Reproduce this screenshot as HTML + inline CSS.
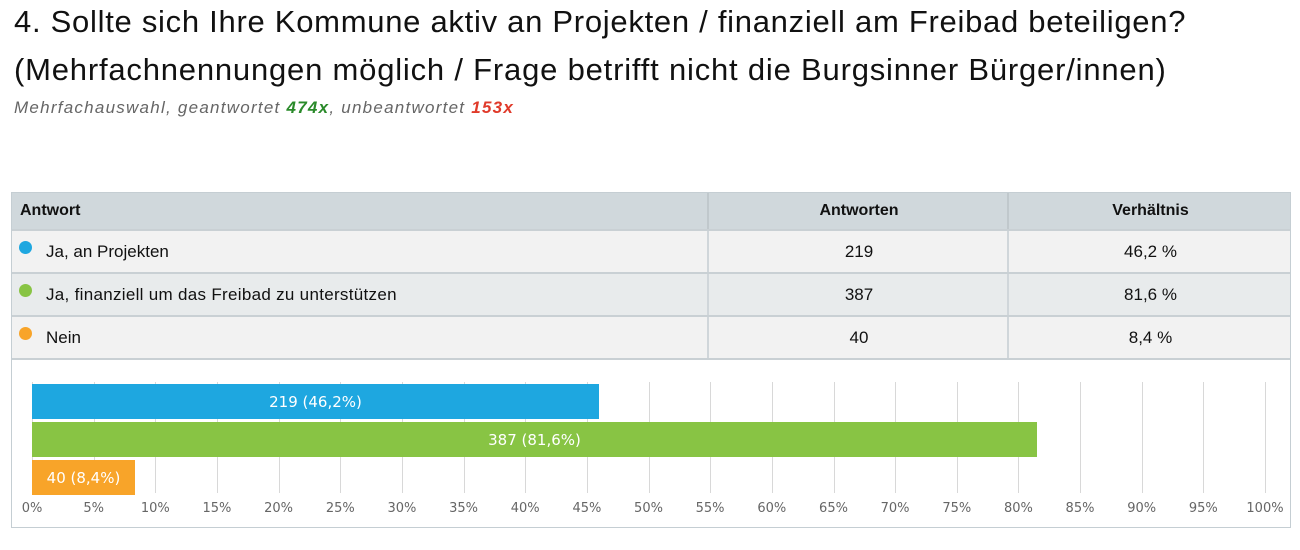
<!DOCTYPE html>
<html><head><meta charset="utf-8"><style>
body{margin:0;width:1300px;height:550px;background:#fff;font-family:"Liberation Sans",sans-serif;position:relative;overflow:hidden}
.t{position:absolute;left:14px;font-size:31px;color:#111;white-space:nowrap;letter-spacing:0.72px}
.s{position:absolute;left:14px;top:98px;font-size:17px;font-style:italic;color:#666;letter-spacing:1.25px}
.box{position:absolute;left:11px;top:192px;width:1280px;height:336px;border:1px solid #c5ced3;box-sizing:border-box}
.row{position:absolute;left:0;width:1278px;border-bottom:2px solid #c9d0d4;box-sizing:border-box;font-size:17px;color:#111}
.c{position:absolute;top:0;bottom:0;display:flex;align-items:center}
.dot{display:inline-block;width:13px;height:13px;border-radius:50%;margin:0 14px 0 7px;position:relative;top:-4px}
.ax{position:absolute;font-family:"DejaVu Sans",sans-serif;font-size:13px;color:#666;top:501px;transform:translateX(-50%)}
.g{position:absolute;top:382px;height:111px;width:1px;background:#d8d8d8}
.bar{position:absolute;left:32px;height:35px;color:#fff;font-family:"DejaVu Sans",sans-serif;font-size:15px;display:flex;align-items:center;justify-content:center}
</style></head><body>
<div class="t" style="top:4px">4. Sollte sich Ihre Kommune aktiv an Projekten / finanziell am Freibad beteiligen?</div>
<div class="t" style="top:52px;letter-spacing:0.8px">(Mehrfachnennungen möglich / Frage betrifft nicht die Burgsinner Bürger/innen)</div>
<div class="s">Mehrfachauswahl, geantwortet <b style="color:#2a8a2a">474x</b>, unbeantwortet <b style="color:#e03a2a">153x</b></div>
<div class="box">
<div class="row" style="top:0;height:38px;background:#d0d8dc;font-weight:bold;font-size:16px">
<div class="c" style="left:8px">Antwort</div>
<div class="c" style="left:695px;width:300px;justify-content:center;border-left:2px solid #c0c8cc">Antworten</div>
<div class="c" style="left:995px;width:283px;justify-content:center;border-left:2px solid #c0c8cc">Verhältnis</div></div>
<div class="row" style="top:38px;height:43px;background:#f2f2f2">
<div class="c" style="left:0"><span class="dot" style="background:#1ea7e0"></span>Ja, an Projekten</div>
<div class="c" style="left:695px;width:300px;justify-content:center;border-left:2px solid #d0d6da">219</div>
<div class="c" style="left:995px;width:283px;justify-content:center;border-left:2px solid #d0d6da">46,2 %</div></div>
<div class="row" style="top:81px;height:43px;background:#e8ebec">
<div class="c" style="left:0"><span class="dot" style="background:#88c444"></span><span style="letter-spacing:0.3px">Ja, finanziell um das Freibad zu unterstützen</span></div>
<div class="c" style="left:695px;width:300px;justify-content:center;border-left:2px solid #d0d6da">387</div>
<div class="c" style="left:995px;width:283px;justify-content:center;border-left:2px solid #d0d6da">81,6 %</div></div>
<div class="row" style="top:124px;height:43px;background:#f2f2f2">
<div class="c" style="left:0"><span class="dot" style="background:#f8a429"></span>Nein</div>
<div class="c" style="left:695px;width:300px;justify-content:center;border-left:2px solid #d0d6da">40</div>
<div class="c" style="left:995px;width:283px;justify-content:center;border-left:2px solid #d0d6da">8,4 %</div></div>
</div>
<div id="grid"></div>
<div class="bar" style="top:384px;width:567px;background:#1ea7e0">219 (46,2%)</div>
<div class="bar" style="top:422px;width:1005px;background:#88c444">387 (81,6%)</div>
<div class="bar" style="top:460px;width:103px;background:#f8a429">40 (8,4%)</div>
<script>
var h='';for(var i=0;i<=20;i++){var x=32+i*5*12.33;h+='<div class="g" style="left:'+x.toFixed(1)+'px"></div><div class="ax" style="left:'+x.toFixed(1)+'px">'+(i*5)+'%</div>';}
document.getElementById('grid').innerHTML=h;
</script>
</body></html>
